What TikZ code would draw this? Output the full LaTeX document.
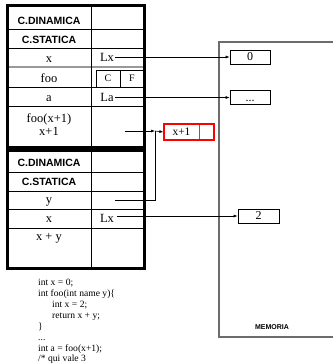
\documentclass[tikz,border=0pt]{standalone}
\usepackage{fontspec}
\setmainfont{Liberation Serif}
\setsansfont{Liberation Sans}
\usetikzlibrary{arrows.meta}
\begin{document}
\begin{tikzpicture}[x=1pt,y=-1pt,
  frame/.style={line width=3pt},
  rowline/.style={line width=0.7pt},
  greyline/.style={draw=gray!80, line width=1.8pt},
  hdr/.style={font=\fontsize{10.5}{12}\selectfont\sffamily\bfseries, inner sep=0pt, anchor=base},
  txt/.style={font=\fontsize{12.5}{14}\selectfont, inner sep=0pt, anchor=base},
  small/.style={font=\fontsize{10}{12}\selectfont},
  memcell/.style={draw, line width=0.8pt, minimum width=40pt, minimum height=14pt, inner sep=0pt, font=\fontsize{12}{14}\selectfont},
  code/.style={font=\fontsize{9.6}{11}\selectfont, inner sep=0pt, anchor=base west},
  arr/.style={-{Latex[length=4pt,width=3pt]}, line width=0.6pt}
]
\useasboundingbox (0,0) rectangle (332,364);

% ---------- memory ----------
\draw[gray!85!black, line width=1.2pt] (333,42) -- (219,42) -- (219,337) -- (333,337);
\node[font=\fontsize{7}{8}\selectfont\sffamily\bfseries] (mem) at (272,327) {MEMORIA};
\node[memcell] (m0) at (250,57) {0};
\node[memcell] (mdots) at (250,97.5) {\vphantom{0}...};
\node[memcell, minimum width=41pt] (m2) at (258.5,216) {2};

% ---------- table 1 ----------
\draw[rowline] (7,29) -- (144,29) (7,48) -- (144,48) (7,87) -- (144,87) (7,106) -- (144,106);
\draw[greyline] (7,67) -- (144,67);
\draw[rowline] (91,5) -- (91,147);
\node[draw, line width=0.7pt, minimum width=24pt, minimum height=17pt, inner sep=0pt, small] (cbox) at (108,78.5) {C};
\node[draw, line width=0.7pt, minimum width=24pt, minimum height=17pt, inner sep=0pt, small] (fbox) at (132,78.5) {F};
\draw[frame] (7,5) rectangle (144,147);

\node[hdr] (d1) at (49,24) {C.DINAMICA};
\node[hdr] (s1) at (49,43) {C.STATICA};
\node[txt] (x1) at (49,62) {x};
\node[txt] (lx1) at (107,61.5) {Lx};
\node[txt] (foo) at (49,82.5) {foo};
\node[txt] (a1) at (49,101.5) {a};
\node[txt] (la1) at (107,101.5) {La};
\node[txt] (fc) at (49,122) {foo(x+1)};
\node[txt] (xp1) at (49,135) {x+1};

% ---------- table 2 ----------
\draw[rowline] (7,172) -- (144,172) (7,191) -- (144,191) (7,209) -- (144,209) (7,228) -- (144,228);
\draw[rowline] (91,150) -- (91,268);
\draw[frame] (7,150) rectangle (144,268);

\node[hdr] (d2) at (49,166) {C.DINAMICA};
\node[hdr] (s2) at (49,185) {C.STATICA};
\node[txt] (y2) at (49,203) {y};
\node[txt] (x2) at (49,222.5) {x};
\node[txt] (lx2) at (107,222.5) {Lx};
\node[txt] (xy2) at (49,240) {x + y};

% ---------- red box ----------
\node[draw=red, line width=1.2pt, minimum width=50pt, minimum height=16pt, inner sep=0pt] (rbox) at (189,132) {};
\node[font=\fontsize{11.5}{13}\selectfont, inner sep=0pt] (rtxt) at (181.5,132) {x+1};
\draw[gray!80!black, line width=0.8pt] (199,124.6) -- (199,139.4);

% ---------- connectors ----------
\coordinate (lxs) at (115,57);
\coordinate (las) at (115,97.5);
\coordinate (fxs) at (125,131);
\coordinate (jn) at (155,131);
\coordinate (ys) at (115,200);
\coordinate (lx2s) at (117,216);

\draw[arr] (lxs) -- (m0.west);
\draw[arr] (las) -- (mdots.west);
\draw[arr] (fxs) -- (jn);
\draw[line width=0.6pt] (ys) -| (jn);
\draw[arr] (jn) -- (rbox.west);
\draw[arr] (lx2s) -- (m2.west);

% ---------- code ----------
\node[code] (c1) at (38,285.5) {int x = 0;};
\node[code] (c2) at (38,296.5) {int foo(int name y)\{};
\node[code] (c3) at (52,307.5) {int x = 2;};
\node[code] (c4) at (52,318.5) {return x + y;};
\node[code] (c5) at (38,329.5) {\}};
\node[code] (c6) at (38,340) {...};
\node[code] (c7) at (38,351) {int a = foo(x+1);};
\node[code] (c8) at (38,361.3) {/* qui vale 3};
\end{tikzpicture}
\end{document}
